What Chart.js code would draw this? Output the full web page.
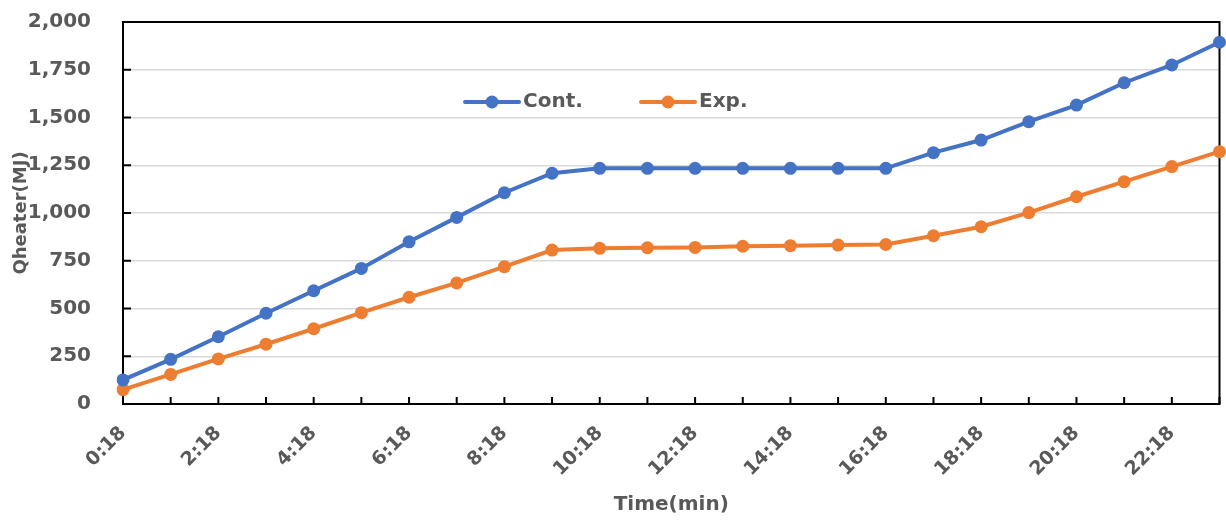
<!DOCTYPE html>
<html>
<head>
<meta charset="utf-8">
<script src="https://cdn.jsdelivr.net/npm/chart.js@4/dist/chart.umd.min.js"></script>
<style>
  html, body { margin: 0; padding: 0; background: #fff; }
  #wrap { position: relative; width: 1226px; height: 520px; }
</style>
</head>
<body>
<div id="wrap"><canvas id="c" width="1226" height="520"></canvas></div>
<script>
const categories = ["0:18","1:18","2:18","3:18","4:18","5:18","6:18","7:18","8:18","9:18","10:18","11:18",
  "12:18","13:18","14:18","15:18","16:18","17:18","18:18","19:18","20:18","21:18","22:18","23:18"];
const contValues = [126, 234, 352, 475, 593, 710, 849, 977, 1106, 1208, 1234, 1234,
  1234, 1234, 1234, 1234, 1234, 1316, 1382, 1478, 1565, 1682, 1775, 1894];
const expValues = [75, 155, 236, 313, 394, 478, 559, 634, 719, 806, 815, 818,
  820, 826, 829, 832, 835, 881, 928, 1002, 1085, 1164, 1243, 1321];
const seriesNames = ["Cont.", "Exp."];
const yTickValues = [0, 250, 500, 750, 1000, 1250, 1500, 1750, 2000];

const BLUE = '#4472C4', ORANGE = '#ED7D31', TXT = '#595959';
const FONT = "'DejaVu Sans', sans-serif";

const framePlugin = {
  id: 'frame',
  beforeDatasetsDraw(chart) {
    const { ctx, chartArea: { left, top, right, bottom }, scales: { x, y } } = chart;
    ctx.save();
    ctx.strokeStyle = '#000';
    ctx.lineWidth = 2;
    ctx.strokeRect(left, top, right - left, bottom - top);
    ctx.beginPath();
    x.ticks.forEach((t, i) => { const px = x.getPixelForTick(i); ctx.moveTo(px, bottom); ctx.lineTo(px, bottom - 7); });
    y.ticks.forEach((t, i) => { const py = y.getPixelForTick(i); ctx.moveTo(left, py); ctx.lineTo(left + 8, py); });
    ctx.stroke();
    ctx.restore();
  }
};

const legendPlugin = {
  id: 'innerLegend',
  afterDraw(chart) {
    const { ctx, chartArea: { left, top } } = chart;
    const cy = top + 80;
    const starts = [left + 342, left + 518];
    ctx.save();
    chart.data.datasets.forEach((ds, i) => {
      const x0 = starts[i];
      ctx.strokeStyle = ds.borderColor;
      ctx.lineWidth = 4;
      ctx.lineCap = 'round';
      ctx.beginPath(); ctx.moveTo(x0, cy); ctx.lineTo(x0 + 54, cy); ctx.stroke();
      ctx.fillStyle = ds.borderColor;
      ctx.beginPath(); ctx.arc(x0 + 27, cy, 6.5, 0, Math.PI * 2); ctx.fill();
      ctx.fillStyle = TXT;
      ctx.font = "bold 20px " + FONT;
      ctx.textBaseline = 'middle';
      ctx.textAlign = 'left';
      ctx.fillText(ds.label, x0 + 58, cy);
    });
    ctx.restore();
  }
};

new Chart(document.getElementById('c'), {
  type: 'line',
  data: {
    labels: categories,
    datasets: [
      { label: seriesNames[0], data: contValues, borderColor: BLUE, backgroundColor: BLUE,
        borderWidth: 4, pointRadius: 6.5, pointBackgroundColor: BLUE, pointBorderWidth: 0, tension: 0 },
      { label: seriesNames[1], data: expValues, borderColor: ORANGE, backgroundColor: ORANGE,
        borderWidth: 4, pointRadius: 6.5, pointBackgroundColor: ORANGE, pointBorderWidth: 0, tension: 0 }
    ]
  },
  options: {
    responsive: false,
    animation: false,
    devicePixelRatio: 1,
    layout: { padding: { top: 22, right: 2, left: 0, bottom: 0 } },
    plugins: { legend: { display: false }, tooltip: { enabled: false } },
    scales: {
      x: {
        offset: false,
        grid: { display: false },
        border: { display: false },
        afterFit: (s) => { s.paddingLeft = 0; s.paddingRight = 0; s.height = 116; },
        ticks: {
          autoSkip: false, maxRotation: 45, minRotation: 45, padding: 10,
          color: TXT, font: { family: FONT, size: 19, weight: 'bold' },
          callback: function(v, i) { return i % 2 === 0 ? categories[i] : ''; }
        },
        title: { display: true, text: 'Time(min)', color: TXT,
          font: { family: FONT, size: 20, weight: 'bold' }, padding: { top: 0, bottom: 3 } }
      },
      y: {
        min: 0, max: 2000,
        afterBuildTicks: (s) => { s.ticks = yTickValues.map(v => ({ value: v })); },
        afterFit: (s) => { s.paddingTop = 0; s.paddingBottom = 0; s.width = 123; },
        grid: { color: '#d9d9d9', lineWidth: 1.5, drawTicks: false },
        border: { display: false },
        ticks: {
          padding: 32, color: TXT, font: { family: FONT, size: 20, weight: 'bold' },
          callback: (v) => v.toLocaleString('en-US')
        },
        title: { display: true, text: 'Qheater(MJ)', color: TXT,
          font: { family: FONT, size: 18, weight: 'bold' }, padding: { top: 11, bottom: 0 } }
      }
    }
  },
  plugins: [framePlugin, legendPlugin]
});
</script>
</body>
</html>
